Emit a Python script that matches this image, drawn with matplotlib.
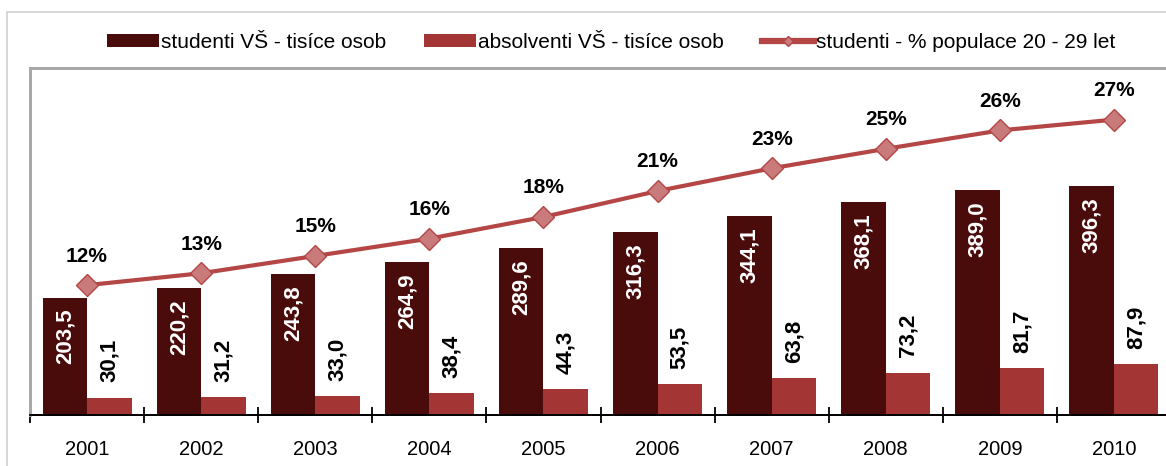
import numpy as np
import matplotlib.pyplot as plt
from matplotlib.patches import Rectangle, Patch
from matplotlib.lines import Line2D

plt.rcParams['font.family'] = ['Liberation Sans', 'DejaVu Sans']

years = ["2001", "2002", "2003", "2004", "2005", "2006", "2007", "2008", "2009", "2010"]
studenti = [203.5, 220.2, 243.8, 264.9, 289.6, 316.3, 344.1, 368.1, 389.0, 396.3]
absolventi = [30.1, 31.2, 33.0, 38.4, 44.3, 53.5, 63.8, 73.2, 81.7, 87.9]
podil = [12.0, 13.1, 14.7, 16.3, 18.3, 20.7, 22.8, 24.6, 26.3, 27.3]  # % populace 20-29 let

c_dark = "#4a0b0b"
c_red = "#a33535"
c_line = "#b54646"
c_mark = "#c97a7a"

W, H = 1166, 466
fig = plt.figure(figsize=(W / 100, H / 100), dpi=100)

# outer frame of the chart object (cut off on the right and bottom)
fig.patches.append(Rectangle((7 / W, -0.1), 1.2, 0.1 + 1 - 12 / H, transform=fig.transFigure,
                             fill=False, edgecolor="#cfcfcf", lw=1.2))

left, right, bottom, top = 30 / W, 1171 / W, 1 - 415 / H, 1 - 68 / H
ax = fig.add_axes([left, bottom, right - left, top - bottom])
ax2 = ax.twinx()

x = np.arange(len(years))
bw = 0.39
ax.bar(x - bw / 2, studenti, bw, color=c_dark)
ax.bar(x + bw / 2, absolventi, bw, color=c_red)
ax.set_xlim(-0.5, len(years) - 0.5)
ax.set_ylim(0, 601)

for xi, v in zip(x, studenti):
    ax.annotate(f"{v:.1f}".replace(".", ","), (xi - bw / 2, v), xytext=(0, -8), textcoords="offset points",
                rotation=90, ha="center", va="top", color="white", fontsize=16, fontweight="bold")
for xi, v in zip(x, absolventi):
    ax.annotate(f"{v:.1f}".replace(".", ","), (xi + bw / 2, v), xytext=(0, 11), textcoords="offset points",
                rotation=90, ha="center", va="bottom", color="black", fontsize=16, fontweight="bold")

ax2.plot(x, podil, color=c_line, lw=3, marker="D", markersize=11,
         markerfacecolor=c_mark, markeredgecolor=c_line, markeredgewidth=1)
ax2.set_ylim(0, 32.07)
for xi, v in zip(x, podil):
    ax2.annotate(f"{int(v + 0.5)}%", (xi, v), xytext=(0, 17), textcoords="offset points",
                 ha="center", va="baseline", color="black", fontsize=15, fontweight="bold")

# axes styling
for a in (ax, ax2):
    a.set_yticks([])
    a.spines["top"].set_color("#a8a8a8")
    a.spines["left"].set_color("#a8a8a8")
    a.spines["right"].set_visible(False)
    a.spines["top"].set_linewidth(2)
    a.spines["left"].set_linewidth(2)
    a.spines["bottom"].set_color("black")
    a.spines["bottom"].set_linewidth(1.3)

ax.set_xticks(x)
ax.set_xticklabels(years, fontsize=14.5)
ax.tick_params(axis="x", which="major", length=0, pad=18)
ax.set_xticks(np.arange(-0.5, len(years), 1), minor=True)
ax.tick_params(axis="x", which="minor", direction="inout", length=12, width=1.3, color="black")

handles = [
    Patch(facecolor=c_dark, edgecolor="none"),
    Patch(facecolor=c_red, edgecolor="none"),
    Line2D([], [], color=c_line, lw=4.5, marker="D", markersize=5,
           markerfacecolor=c_mark, markeredgecolor=c_line),
]
labels = ["studenti VŠ - tisíce osob", "absolventi VŠ - tisíce osob", "studenti - % populace 20 - 29 let"]
fig.legend(handles, labels, loc="center", bbox_to_anchor=(611 / W, 1 - 42 / H), ncol=3,
           frameon=False, fontsize=15, handlelength=2.5, handleheight=0.58,
           handletextpad=0.12, columnspacing=1.8)

fig.savefig("out.png", dpi=100)
